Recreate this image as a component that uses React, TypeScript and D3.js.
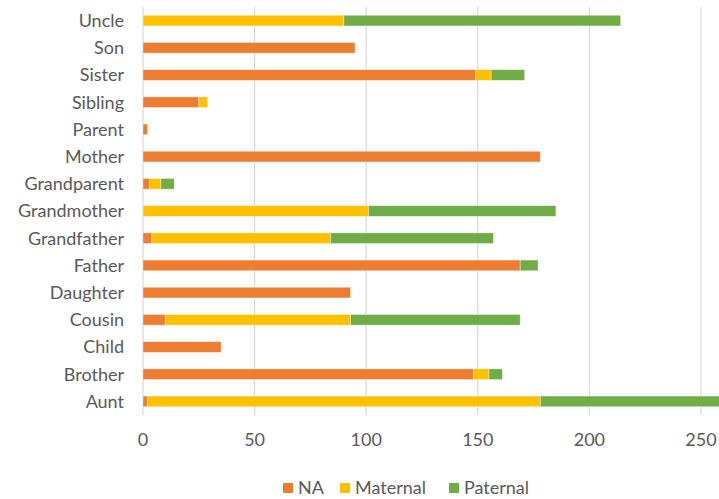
import React from "react";
import * as d3 from "d3";

const categories = ["Uncle","Son","Sister","Sibling","Parent","Mother","Grandparent","Grandmother","Grandfather","Father","Daughter","Cousin","Child","Brother","Aunt"];
const seriesNames = ["NA","Maternal","Paternal"];
const naValues =       [0, 95, 149, 25, 2, 178, 3, 0, 4, 169, 93, 10, 35, 148, 2];
const maternalValues = [90, 0, 7, 4, 0, 0, 5, 101, 80, 0, 0, 83, 0, 7, 176];
const paternalValues = [124, 0, 15, 0, 0, 0, 6, 84, 73, 8, 0, 76, 0, 6, 84];
const xTicks = [0, 50, 100, 150, 200, 250];
const colors = ["#ED7D31", "#FFC000", "#70AD47"];

const W = 719, H = 499;
const FONT = "Lato, 'Open Sans', sans-serif";

export default function App() {
  const x = d3.scaleLinear().domain([0, 300]).range([143, 143 + 300 * 2.232]);
  const y = d3.scaleBand<string>().domain(categories).range([7, 415]).paddingInner(0.607).paddingOuter(0.3035);
  const rows = categories.map((c, i) => ({ cat: c, NA: naValues[i], Maternal: maternalValues[i], Paternal: paternalValues[i] }));
  const stacked = d3.stack<any>().keys(seriesNames)(rows);
  const legendX = [283, 340, 449];
  return (
    <svg width={W} height={H} style={{ position: "absolute", left: 0, top: 0, background: "#fff" }}>
      <defs>
        <clipPath id="clip"><rect x={0} y={0} width={W} height={H} /></clipPath>
      </defs>
      {xTicks.map(t => (
        <line key={t} x1={x(t)} x2={x(t)} y1={7} y2={415} stroke="#d9d9d9" strokeWidth={1.2} />
      ))}
      <g clipPath="url(#clip)">
        {stacked.map((s, si) => (
          <g key={s.key} fill={colors[si]}>
            {s.map((d, i) => d[1] - d[0] > 0 ? (
              <rect key={i} x={x(d[0])} y={y(categories[i])!} width={x(d[1]) - x(d[0])} height={y.bandwidth()} stroke="#fff" strokeOpacity={0.5} strokeWidth={0.75} />
            ) : null)}
          </g>
        ))}
      </g>
      {categories.map(c => (
        <text key={c} x={124} y={y(c)! + y.bandwidth() / 2} dy="0.35em" textAnchor="end" fontFamily={FONT} fontSize={18} fill="#595959">{c}</text>
      ))}
      {xTicks.map(t => (
        <text key={t} x={x(t)} y={440} dy="0.35em" textAnchor="middle" fontFamily={FONT} fontSize={18} fill="#595959">{t}</text>
      ))}
      {seriesNames.map((n, i) => (
        <g key={n}>
          <rect x={legendX[i]} y={483} width={10} height={10} fill={colors[i]} />
          <text x={legendX[i] + 15} y={488} dy="0.35em" fontFamily={FONT} fontSize={18} fill="#595959">{n}</text>
        </g>
      ))}
    </svg>
  );
}
